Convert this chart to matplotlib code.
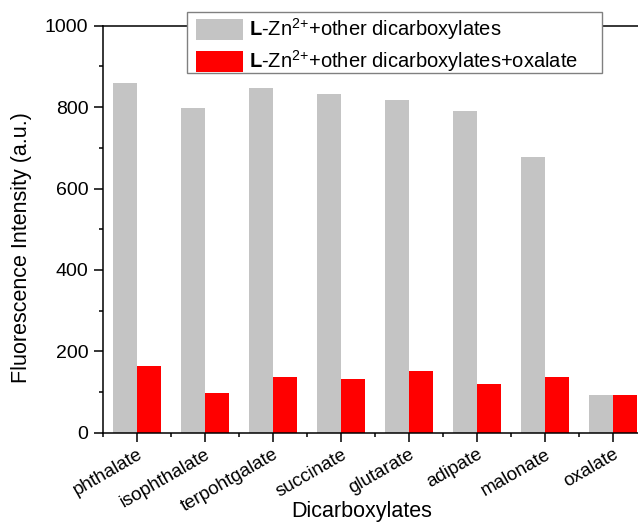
import numpy as np
import matplotlib
matplotlib.use('Agg')
import matplotlib.pyplot as plt
from matplotlib.patches import Rectangle
from matplotlib.ticker import MultipleLocator, FixedLocator

plt.rcParams['font.family'] = ['Liberation Sans', 'DejaVu Sans']
plt.rcParams['mathtext.fontset'] = 'custom'
plt.rcParams['mathtext.rm'] = 'Liberation Sans'
plt.rcParams['mathtext.bf'] = 'Liberation Sans:bold'

categories = ['phthalate', 'isophthalate', 'terpohtgalate', 'succinate',
              'glutarate', 'adipate', 'malonate', 'oxalate']
others = [860, 797, 848, 833, 818, 790, 678, 93]
with_oxalate = [165, 98, 137, 133, 152, 120, 137, 93]

fig = plt.figure(figsize=(6.38, 5.22), dpi=100)
# right edge of the axes lies past the figure, as in the original (cropped)
ax = fig.add_axes([103 / 638, 1 - 432.7 / 522, 544 / 638, 407 / 522])

x = np.arange(len(categories))
w = 0.35
ax.bar(x - w / 2, others, w, color='#c4c4c4',
       label=r'$\mathbf{L}$-Zn$^{\text{2+}}$+other dicarboxylates')
ax.bar(x + w / 2, with_oxalate, w, color='#ff0000',
       label=r'$\mathbf{L}$-Zn$^{\text{2+}}$+other dicarboxylates+oxalate')

ax.set_xlim(-0.5, len(categories) - 0.5)
ax.set_ylim(0, 1000)
ax.yaxis.set_major_locator(MultipleLocator(200))
ax.yaxis.set_minor_locator(MultipleLocator(100))
ax.set_xticks(x)
ax.set_xticklabels(categories, rotation=30, ha='right', rotation_mode='anchor', fontsize=13.5)
ax.xaxis.set_minor_locator(FixedLocator(np.arange(-0.5, len(categories), 1.0)))
ax.tick_params(axis='both', which='major', direction='out', length=6.5, width=1.1)
ax.tick_params(axis='both', which='minor', direction='out', length=3, width=1.1)
ax.tick_params(axis='y', which='major', labelsize=14, pad=4)
ax.tick_params(axis='x', which='major', pad=3)
for s in ax.spines.values():
    s.set_linewidth(1.1)

ax.set_xlabel('Dicarboxylates', fontsize=15.5)
ax.xaxis.set_label_coords(0.476, -0.167)
ax.set_ylabel('Fluorescence Intensity (a.u.)', fontsize=15.5)
ax.yaxis.label.set_va('center')
ax.yaxis.set_label_coords(-0.149, 0.456)

# legend box of the original is wider than its text, so draw the frame separately
box = Rectangle((187 / 638, 1 - 73 / 522), (602 - 187) / 638, 61 / 522,
                transform=fig.transFigure, facecolor='white', edgecolor='#808080',
                linewidth=1, clip_on=False, zorder=4.9)
ax.add_patch(box)
leg = ax.legend(loc='upper left', bbox_to_anchor=(194 / 638, 1 - 14 / 522),
                bbox_transform=fig.transFigure, borderaxespad=0, fontsize=14.5,
                handlelength=2.3, handleheight=1.2, handletextpad=0.3,
                labelspacing=0.3, borderpad=0.12, frameon=False)

fig.savefig('out.png', dpi=100)
